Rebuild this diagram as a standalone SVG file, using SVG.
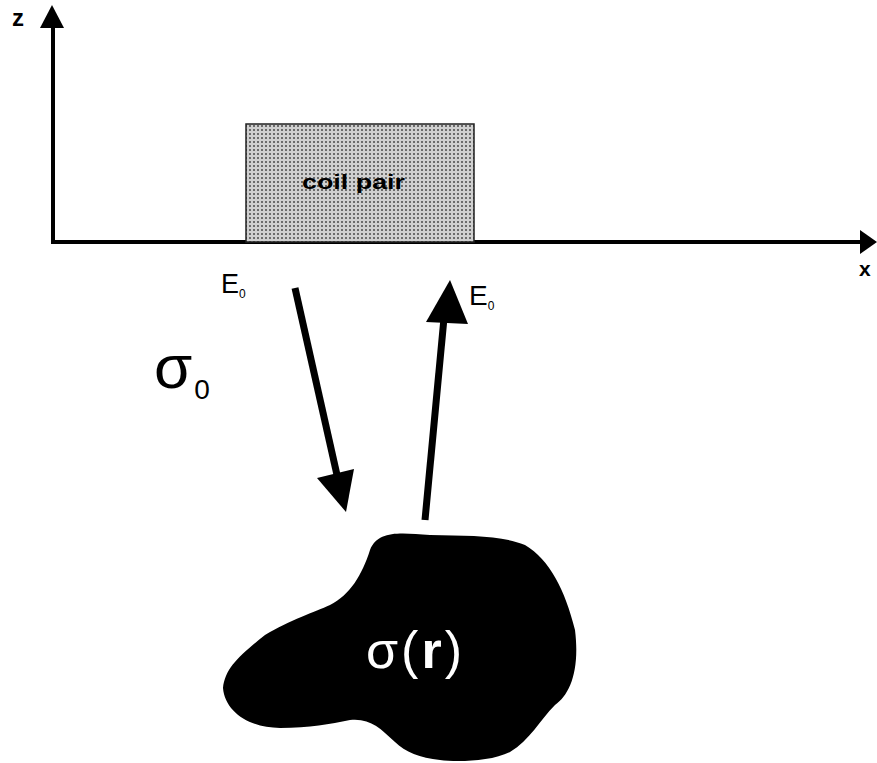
<svg xmlns="http://www.w3.org/2000/svg" width="877" height="763" viewBox="0 0 877 763">
<style>
.lbl{font-family:"Liberation Sans",Arial,sans-serif;fill:#000}
.ax{stroke:#000;stroke-width:4;fill:none}
.arr{stroke:#000;stroke-width:7;fill:none}
</style>
<defs>
<pattern id="dots" width="4" height="4" patternUnits="userSpaceOnUse">
<rect width="4" height="4" fill="#d0d0d0"/>
<circle cx="2" cy="2" r="1" fill="#4a4a4a"/>
</pattern>
</defs>
<rect width="877" height="763" fill="#fff"/>
<g id="connectors">
<line class="ax" x1="53" y1="243" x2="53" y2="24"/>
<polygon points="52,5 40,28 64,28" fill="#000"/>
<line class="ax" x1="51" y1="242" x2="863" y2="242"/>
<polygon points="877,242 860,230 860,254" fill="#000"/>
<line class="arr" x1="295" y1="288" x2="337" y2="475"/>
<polygon points="346,512 317,478 354,469" fill="#000"/>
<line class="arr" x1="425" y1="520" x2="444" y2="318"/>
<polygon points="450,280 426,322 468,324" fill="#000"/>
</g>
<g id="coil">
<rect x="246" y="124" width="228" height="118" fill="url(#dots)" stroke="#222" stroke-width="1.5"/>
<text class="lbl" x="302" y="189" font-size="21" font-weight="bold" textLength="103" lengthAdjust="spacingAndGlyphs">coil pair</text>
</g>
<g id="labels">
<text class="lbl" x="12" y="26" font-size="24" font-weight="bold">z</text>
<text class="lbl" x="859" y="276" font-size="21" font-weight="bold">x</text>
<text class="lbl" x="221" y="293" font-size="27">E<tspan font-size="12" dy="5">0</tspan></text>
<text class="lbl" x="469" y="305" font-size="28">E<tspan font-size="12" dy="5">0</tspan></text>
<text class="lbl" x="154" y="388" font-size="62">σ<tspan font-size="28" dx="2" dy="11">0</tspan></text>
</g>
<g id="blob">
<path d="M370,550 C378,530 400,533 430,535 C470,536 500,535 525,545 C550,560 565,590 575,630 C580,670 570,695 555,705 C540,720 530,740 510,752 C490,762 455,762 440,760 C420,758 405,752 395,742 C380,728 370,718 350,720 C330,724 310,728 280,728 C250,728 225,712 223,688 C225,668 240,655 265,635 C290,620 315,612 330,605 C350,595 362,575 370,550 Z" fill="#000"/>
<text x="366" y="668" font-size="52" letter-spacing="3" font-family="Liberation Sans,Arial,sans-serif" fill="#fff">σ(<tspan font-weight="bold">r</tspan>)</text>
</g>
</svg>
